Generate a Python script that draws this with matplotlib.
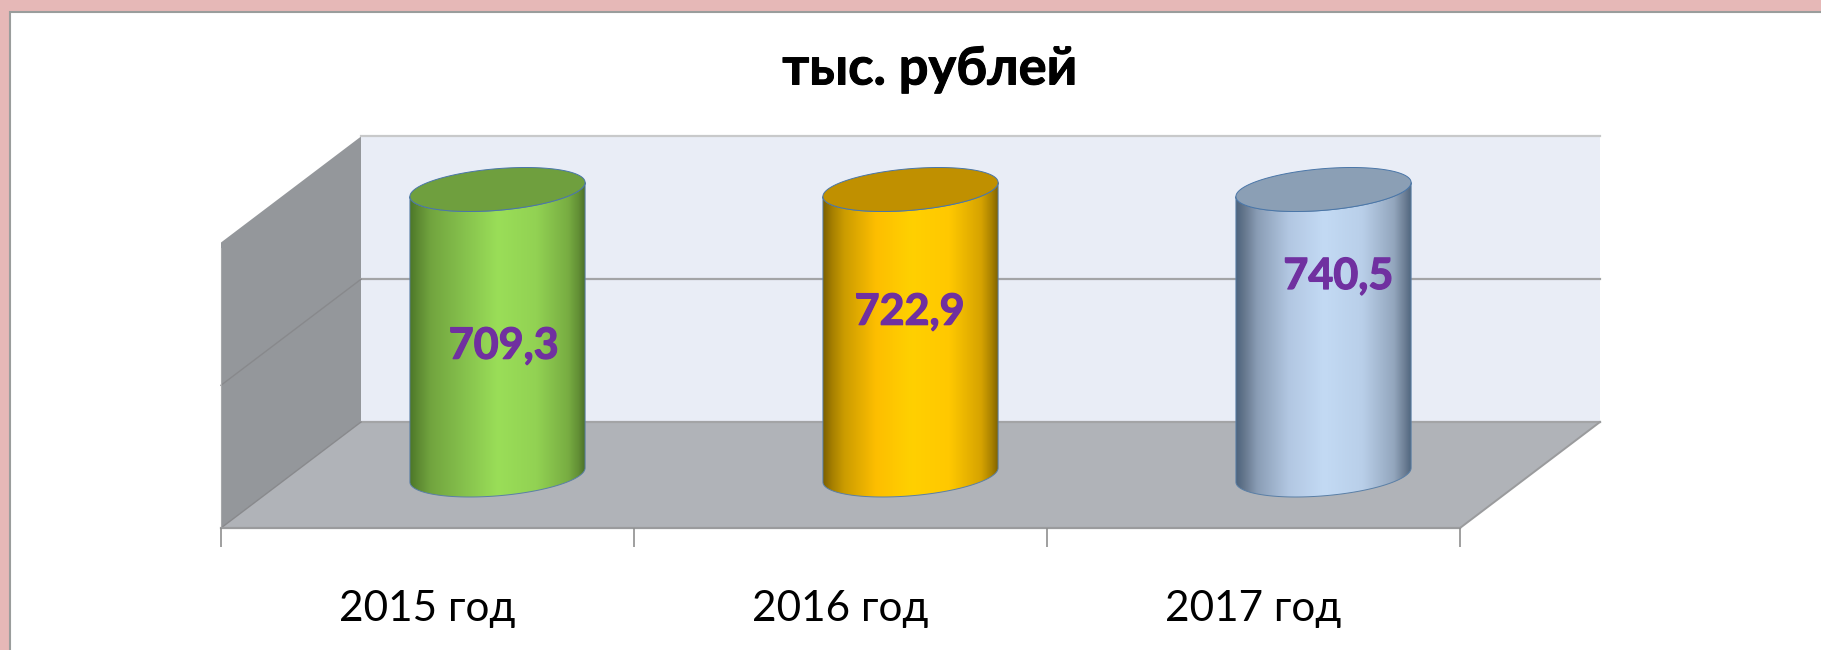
"""Cylinder chart, thousand roubles by year."""
import numpy as np
import matplotlib
matplotlib.use("Agg")
import matplotlib.pyplot as plt
import matplotlib.patches as mpatches
import matplotlib.patheffects as pe
from matplotlib.colors import LinearSegmentedColormap

plt.rcParams['font.family'] = ['Lato', 'Open Sans', 'DejaVu Sans']

# data
categories = ['2015 год', '2016 год', '2017 год']
values = [709.3, 722.9, 740.5]
shares = [100, 100, 100]          # every cylinder fills the full axis
label_levels = [45.3, 57.2, 69.7]     # where the value sits on the cylinder
label_shift = [0.015, -0.002, 0.036]
grid_levels = [0, 50, 100]
title = 'тыс. рублей'

# cylinder colours: side gradient stops and the top cap
gradient_pos = [0, 0.05, 0.12, 0.3, 0.5, 0.72, 0.9, 0.96, 1]
green_side = ['#4d7829', '#5f8c33', '#72a53f', '#85c04c', '#9ade58', '#92d253', '#78ad42', '#628f35', '#4a6e29']
orange_side = ['#7d6000', '#a57f00', '#cb9c00', '#fdbe00', '#ffd000', '#ffc800', '#d6a300', '#a98200', '#7d6000']
blue_side = ['#4e647d', '#67798f', '#8a9db5', '#b2c7e2', '#c3daf4', '#b9cfe9', '#93a6bd', '#6d7f95', '#4e647d']
sides = [green_side, orange_side, blue_side]
tops = ['#6f9f3e', '#c09000', '#8b9fb5']

# pixels per data unit, and what one unit of depth shifts by
W, H = 1821, 650
PX_X = 413.0
PX_Y = 2.855
BASE_X, BASE_Y = 221, 528
DEPTH_X = 140 / PX_X
DEPTH_Y = 106 / PX_Y
RX, SX, RY = 83 / PX_X, 28 / PX_X, 22 / PX_Y

fig = plt.figure(figsize=(W / 100, H / 100), dpi=100, facecolor='white')
ax = fig.add_axes([0, 0, 1, 1])
ax.axis('off')
n = len(categories)
y_top = grid_levels[-1]
xlim = (-BASE_X / PX_X, (W - BASE_X) / PX_X)
ylim = (-(H - BASE_Y) / PX_Y, BASE_Y / PX_Y)

# outer frame
ax.add_patch(mpatches.Rectangle((0, 0), 1, 1, transform=ax.transAxes, facecolor='#e6b8b7', edgecolor='none', zorder=0))
ax.add_patch(mpatches.Rectangle((10 / W, -1), 2, 2 - 12 / H, transform=ax.transAxes, facecolor='white',
                                edgecolor='#9a9d9c', linewidth=1.5, zorder=0.5))

# walls and floor
ax.add_patch(mpatches.Polygon([(DEPTH_X, DEPTH_Y), (n + DEPTH_X, DEPTH_Y), (n + DEPTH_X, DEPTH_Y + y_top), (DEPTH_X, DEPTH_Y + y_top)],
                              facecolor='#e9edf6', edgecolor='none', zorder=1))
ax.add_patch(mpatches.Polygon([(0, 0), (DEPTH_X, DEPTH_Y), (DEPTH_X, DEPTH_Y + y_top), (0, y_top)],
                              facecolor='#94979b', edgecolor='none', zorder=1))
ax.add_patch(mpatches.Polygon([(0, 0), (n, 0), (n + DEPTH_X, DEPTH_Y), (DEPTH_X, DEPTH_Y)],
                              facecolor='#b0b3b8', edgecolor='none', zorder=1))

# gridlines over back wall and left wall
for level in grid_levels:
    col = '#c8c9ca' if level == y_top else '#a3a4a6'
    ax.plot([DEPTH_X, n + DEPTH_X], [DEPTH_Y + level, DEPTH_Y + level], color=col, lw=1.6, zorder=2)
    if level != y_top:
        ax.plot([0, DEPTH_X], [level, DEPTH_Y + level], color='#88898c', lw=1.0, zorder=2)
ax.plot([n, n + DEPTH_X], [0, DEPTH_Y], color='#9a9b9d', lw=1.4, zorder=2)
ax.plot([0, 0], [0, y_top * 0.98], color='#a6a8aa', lw=0.8, zorder=2)

# category axis
ax.plot([0, n], [0, 0], color='#9a9b9d', lw=1.6, zorder=2)
ax.vlines(range(n + 1), -19 / PX_Y, 0, color='#8f8f8f', lw=1.2, zorder=2)

# cylinders
t0 = np.arctan2(SX, RX)


def ellipse(cx, level, t):
    return np.column_stack([cx + RX * np.cos(t) + SX * np.sin(t), level + RY * np.sin(t)])


half = np.hypot(RX, SX)
front = np.linspace(t0, t0 - np.pi, 100)
thick = [pe.withStroke(linewidth=0.9, foreground='#7030a0')]
thick_title = [pe.withStroke(linewidth=0.7, foreground='black')]
for i, share in enumerate(shares):
    cx = i + 0.5 + 0.5 * DEPTH_X
    base = 0.5 * DEPTH_Y
    top = base + share
    body = np.vstack([ellipse(cx, base, front), ellipse(cx, top, front[::-1])])
    cmap = LinearSegmentedColormap.from_list('side', list(zip(gradient_pos, sides[i])))
    im = ax.imshow(np.linspace(0, 1, 256)[None, :], cmap=cmap, aspect='auto', zorder=3,
                   extent=[cx - half, cx + half, base - 2 * RY, top + 2 * RY], interpolation='bilinear')
    clip = mpatches.Polygon(body, transform=ax.transData, facecolor='none', edgecolor='none')
    ax.add_patch(clip)
    im.set_clip_path(clip)
    ax.add_patch(mpatches.Polygon(body, facecolor='none', edgecolor='#5a7fa6', lw=0.7, zorder=4))
    cap = ellipse(cx, top, np.linspace(0, 2 * np.pi, 200))
    ax.add_patch(mpatches.Polygon(cap, facecolor=tops[i], edgecolor='#4a76a8', lw=0.7, zorder=5))
    ax.text(cx + label_shift[i], base + label_levels[i], f'{values[i]:.1f}'.replace('.', ','),
            ha='center', va='center', fontsize=31, fontweight='bold', color='#7030a0', zorder=6,
            path_effects=thick)
    ax.text(i + 0.5, -81 / PX_Y, categories[i], ha='center', va='center', fontsize=30.4, color='black', zorder=6)

ax.text(930, H - 69, title, transform=None, ha='center', va='center', fontsize=37.8, fontweight='bold', color='black',
        zorder=6, path_effects=thick_title)

ax.set_xlim(*xlim)
ax.set_ylim(*ylim)
fig.savefig('out.png', dpi=100)
plt.close(fig)
